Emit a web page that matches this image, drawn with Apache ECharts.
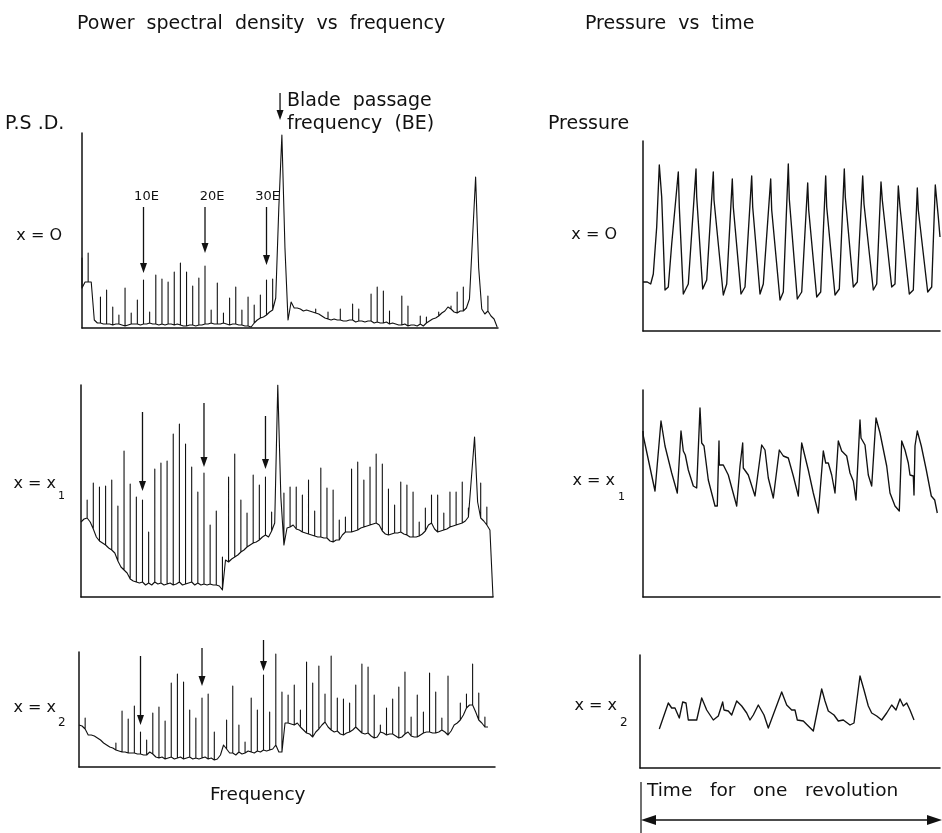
<!DOCTYPE html>
<html>
<head>
<meta charset="utf-8">
<script src="https://cdn.jsdelivr.net/npm/echarts@6/dist/echarts.min.js"></script>
<style>
  html, body { margin: 0; padding: 0; background: #fff; }
  #main { width: 942px; height: 833px; }
</style>
</head>
<body>
<div id="main"></div>
<script>
// PSD traces: floor level read every half engine order (0, 0.5, 1 ... 67.5),
// spike tops read at each integer engine order (null = no spike)
const psd0Floor = [40,46, 46,46, 8,5, 5,4, 4,4, 3,4, 4,3, 2,3, 4,4, 4,3, 4,4, 5,4, 4,3, 4,3, 4,4, 3,4, 3,2, 2,3, 3,2, 3,3,
  4,4, 5,4, 4,4, 5,4, 3,4, 4,3, 3,2, 2,1, 5,8, 10,11, 13,16, 18,30, 120,193, 80,8, 26,20, 20,19, 17,18, 17,16, 15,14, 12,10,
  9,8, 9,8, 8,7, 7,8, 8,6, 7,7, 6,7, 7,5, 6,5, 5,6, 4,5, 4,3, 3,4, 2,3, 3,2, 4,2, 5,7, 9,10, 12,15, 17,21,
  19,16, 15,17, 17,20, 29,90, 151,60, 19,14, 17,12, 9,1];
const psd0Peaks = [70,75,null,31,38,21,13,40,15,28, 48,16,53,49,46,56,65,56,42,50, 62,18,45,15,30,41,18,31,23,33,
  48,49,null,null,null,22,19,null,19,null, 16,null,19,null,24,19,null,34,41,37, 17,null,32,22,null,12,11,null,16,null,
  22,36,41,null,null,null,32,null];

const psd1Floor = [75,78, 79,75, 68,60, 56,54, 52,49, 47,44, 36,30, 27,24, 18,16, 15,14, 15,12, 14,12, 15,13, 14,12, 13,14,
  12,13, 15,12, 13,14, 15,12, 14,12, 13,12, 13,12, 12,11, 7,37, 35,38, 40,42, 45,47, 50,52, 54,55, 57,60, 62,60, 66,74,
  212,100, 52,69, 70,72, 68,67, 65,64, 63,62, 61,60, 60,59, 59,56, 55,57, 57,62, 65,65, 65,66, 67,69, 70,71, 72,73,
  74,72, 66,63, 62,63, 64,64, 65,63, 62,60, 60,60, 61,63, 66,72, 74,68, 65,66, 67,68, 70,71, 72,73, 74,76, 80,120,
  160,95, 79,76, 72,67, 0,null];
const psd1Peaks = [null,97,114,110,111,117,91,146,113,100, 97,65,128,134,136,163,173,153,130,105, 124,72,86,40,120,143,97,84,122,112,
  120,85,null,104,110,110,102,117,86,129, 109,107,77,80,128,135,117,130,143,133, 108,92,115,112,105,75,89,102,102,84,
  105,105,115,89,null,114,90,null];

const psd2Floor = [42,41, 38,32, 32,31, 29,27, 24,22, 20,19, 17,16, 15,15, 14,14, 14,13, 13,12, 12,15, 13,10, 9,10, 8,9,
  10,8, 9,10, 8,9, 10,8, 9,8, 9,10, 8,9, 7,8, 12,22, 18,14, 14,12, 15,13, 14,16, 15,14, 16,15, 17,16, 17,18, 22,15,
  15,44, 44,43, 42,44, 40,37, 34,33, 30,35, 38,42, 45,40, 37,35, 36,33, 32,34, 35,37, 40,37, 34,33, 34,31, 29,30,
  35,34, 32,33, 33,31, 29,30, 33,35, 31,30, 30,32, 34,35, 35,34, 34,35, 37,35, 32,36, 42,44, 47,52, 59,62, 62,55,
  47,44, 40,40, null,null];
const psd2Peaks = [null,49,null,null,null,22,24,56,48,61, 35,27,54,60,46,84,93,85,57,49, 69,73,35,null,47,81,42,25,69,57,
  92,55,113,75,72,82,57,105,84,101, 73,111,69,68,64,82,103,100,72,42, 59,68,80,95,50,72,55,94,75,49,
  91,42,64,73,103,74,50,null];

// engine orders marked by arrows, and arrow [top, tip] per PSD panel
const orderMarks = ['10E', '20E', '30E'];
const orderX = [10, 20, 30];
const arrowTop = [[121, 121, 121], [185, 194, 181], [111, 119, 127]];
const arrowTip = [[55, 75, 63], [106, 130, 128], [42, 81, 96]];
const bladeArrow = [32.2, 235, 208];

// pressure vs time, [time, pressure]
const pressX0 = [[0,49],[4.3,49],[7.7,47],[10.3,57],[13.7,104],[16.3,166],[18.7,134],[22,41],[25.3,44],[28.7,87],
  [35.3,159],[36.3,124],[40.3,37],[45.3,47],[53,162],[53.7,134],[59.7,42],[63.7,51],[70.3,159],[71,131],
  [80.3,36],[83.7,47],[89.3,152],[90.3,124],[98,37],[102,44],[108.7,155],[109.7,124],[117,37],[120.3,47],
  [127.7,152],[128.7,121],[137,31],[140.3,39],[145.3,167],[146.3,132],[154.3,32],[158.7,39],[164.7,148],[165.7,121],
  [173.7,34],[177.7,39],[182.7,155],[183.7,124],[192,36],[196.3,42],[201.3,162],[202.3,134],[210.3,44],[214.3,49],
  [219.7,155],[221,127],[230.3,41],[233.7,47],[238,149],[239.3,131],[248.7,44],[252,47],[255.3,145],[257,124],
  [266.3,37],[270.3,41],[274.3,143],[275.3,121],[284.7,39],[288.7,44],[292.3,146],[295.3,114],[297,94]];
const pressX1 = [[0,166],[0.3,161],[12,106],[18,176],[22,151],[28.7,124],[34.3,104],[38,166],[40.3,146],[42.3,142],
  [45.3,127],[50.3,111],[53.7,109],[57,189],[58.7,154],[61,151],[65.3,117],[72,91],[74.3,91],[76,156],
  [76.3,132],[80.3,132],[85.3,122],[93.7,91],[97,131],[99.7,154],[100.3,129],[105.3,122],[112,101],[118.7,152],
  [122,147],[125.3,119],[130.3,99],[136.3,147],[140.3,141],[145.3,139],[150.3,121],[155.3,101],[158.7,154],[165.3,127],
  [170.3,104],[175.3,84],[180.3,146],[182.7,134],[185.3,134],[188.7,122],[192,104],[195.3,156],[198.7,146],[203.7,141],
  [207,124],[210.3,116],[213,97],[217,177],[218,159],[222,152],[225.3,122],[228.7,111],[233,179],[237,164],
  [243.7,131],[247,104],[252,91],[256.3,86],[258.7,156],[262,147],[265.3,134],[267,122],[270.3,121],[271,102],
  [272,151],[274.3,166],[278.3,151],[283.3,127],[288.3,101],[291.7,97],[294.3,84]];
const pressX2 = [[19.3,39],[28.3,65],[31.7,60],[35,60],[39.3,50],[42.7,66],[46,65],[48.3,48],[56.7,48],[61.7,70],
  [66.7,58],[73.3,48],[78.3,52],[82.7,66],[84,58],[88.3,57],[91.7,53],[96.7,67],[101.7,62],[106.7,55],
  [110,48],[113.3,53],[118.3,63],[120,65],[124,53],[128.3,40],[135,58],[141.7,76],[146.7,63],[151.7,58],
  [155,58],[157.3,48],[163.3,47],[168.3,42],[173.3,37],[177.3,57],[181.7,79],[185,67],[188.3,57],[194,53],
  [198.3,47],[203.3,48],[210,43],[214,45],[220,92],[224,78],[228.3,62],[231.7,55],[236.7,52],[241.7,48],
  [246.7,55],[251.7,63],[256,58],[260,69],[263.3,62],[266.7,65],[270,58],[274,48]];

function psdTrace(floor, peaks) {
  const pts = [];
  floor.forEach((v, i) => {
    if (v == null) return;
    const x = i / 2;
    pts.push([x, v]);
    if (i % 2 === 0 && peaks[i / 2] != null) {
      pts.push([x, peaks[i / 2]]);
      pts.push([x, v]);
    }
  });
  return pts;
}

const FONT = '"DejaVu Sans", sans-serif';
const ink = '#111';

// panel boxes [left, top, width, height], x range, y range
const panels = [
  { box: [82, 133, 416, 195], xMax: 67.64, yMax: 195 },
  { box: [81, 385, 412, 212], xMax: 67.0, yMax: 212 },
  { box: [79, 652, 416, 115], xMax: 67.64, yMax: 115 },
  { box: [643, 141, 297, 190], xMax: 297, yMax: 190 },
  { box: [643, 390, 297, 207], xMax: 297, yMax: 207 },
  { box: [640, 655, 300, 113], xMax: 300, yMax: 113 }
];

const axisLine = { show: true, onZero: false, lineStyle: { color: ink, width: 1.5 } };

const psdData = [psdTrace(psd0Floor, psd0Peaks), psdTrace(psd1Floor, psd1Peaks), psdTrace(psd2Floor, psd2Peaks)];
const pressData = [pressX0, pressX1, pressX2];

const series = [];
psdData.forEach((d, p) => {
  series.push({
    type: 'line', xAxisIndex: p, yAxisIndex: p, data: d, showSymbol: false, symbol: 'none',
    silent: true, lineStyle: { color: ink, width: 1.1, join: 'round' }
  });
});
pressData.forEach((d, k) => {
  series.push({
    type: 'line', xAxisIndex: k + 3, yAxisIndex: k + 3, data: d, showSymbol: false, symbol: 'none',
    silent: true, lineStyle: { color: ink, width: 1.35, join: 'round' }
  });
});

function txt(text, x, y, size, align) {
  return { type: 'text', x: x, y: y, silent: true,
    style: { text: text, font: size + 'px ' + FONT, fill: ink, align: align || 'left', verticalAlign: 'middle' } };
}

const chart = echarts.init(document.getElementById('main'), null, { renderer: 'canvas' });
chart.setOption({
  backgroundColor: '#fff',
  animation: false,
  grid: panels.map(p => ({ left: p.box[0], top: p.box[1], width: p.box[2], height: p.box[3], containLabel: false })),
  xAxis: panels.map((p, i) => ({
    type: 'value', gridIndex: i, min: 0, max: p.xMax,
    axisLine: axisLine, axisTick: { show: false }, axisLabel: { show: false }, splitLine: { show: false }
  })),
  yAxis: panels.map((p, i) => ({
    type: 'value', gridIndex: i, min: 0, max: p.yMax,
    axisLine: axisLine, axisTick: { show: false }, axisLabel: { show: false }, splitLine: { show: false }
  })),
  series: series
});

// downward arrows placed through each panel's own axes
function arrow(grid, x, yTop, yTip) {
  const a = chart.convertToPixel({ gridIndex: grid }, [x, yTop]);
  const b = chart.convertToPixel({ gridIndex: grid }, [x, yTip]);
  return [
    { type: 'line', silent: true, shape: { x1: a[0], y1: a[1], x2: b[0], y2: b[1] - 6 }, style: { stroke: ink, lineWidth: 1.3 } },
    { type: 'polygon', silent: true, shape: { points: [[b[0], b[1]], [b[0] - 3.5, b[1] - 10], [b[0] + 3.5, b[1] - 10]] }, style: { fill: ink } }
  ];
}

const labelShift = [3, 7, 1];
const graphics = [
  txt('Power  spectral  density  vs  frequency', 77, 24, 19),
  txt('Pressure  vs  time', 585, 24, 19),
  txt('P.S .D.', 5, 124, 19),
  txt('Blade  passage', 287, 101, 19),
  txt('frequency  (BE)', 287, 124, 19),
  txt('Pressure', 548, 124, 19),
  txt('x = O', 62, 236, 16, 'right'),
  txt('x = x', 56, 484, 16, 'right'),
  txt('1', 58, 496, 11),
  txt('x = x', 56, 708, 16, 'right'),
  txt('2', 58, 723, 12),
  txt('x = O', 617, 235, 16, 'right'),
  txt('x = x', 615, 481, 16, 'right'),
  txt('1', 618, 497, 11),
  txt('x = x', 617, 706, 16, 'right'),
  txt('2', 620, 723, 12),
  txt('Frequency', 210, 795, 18.5),
  txt('Time   for   one   revolution', 647, 791, 18.5),
  { type: 'line', silent: true, shape: { x1: 641, y1: 782, x2: 641, y2: 833 }, style: { stroke: ink, lineWidth: 1.2 } },
  { type: 'line', silent: true, shape: { x1: 650, y1: 820, x2: 932, y2: 820 }, style: { stroke: ink, lineWidth: 1.5 } },
  { type: 'polygon', silent: true, shape: { points: [[641, 820], [656, 815], [656, 825]] }, style: { fill: ink } },
  { type: 'polygon', silent: true, shape: { points: [[942, 820], [927, 815], [927, 825]] }, style: { fill: ink } }
];

for (let p = 0; p < 3; p++) {
  orderX.forEach((x, k) => {
    graphics.push(...arrow(p, x, arrowTop[p][k], arrowTip[p][k]));
    if (p === 0) {
      const a = chart.convertToPixel({ gridIndex: 0 }, [x, arrowTop[0][k]]);
      graphics.push(txt(orderMarks[k], a[0] + labelShift[k], a[1] - 10, 13, 'center'));
    }
  });
}
graphics.push(...arrow(0, bladeArrow[0], bladeArrow[1], bladeArrow[2]));

chart.setOption({ graphic: graphics });
</script>
</body>
</html>
